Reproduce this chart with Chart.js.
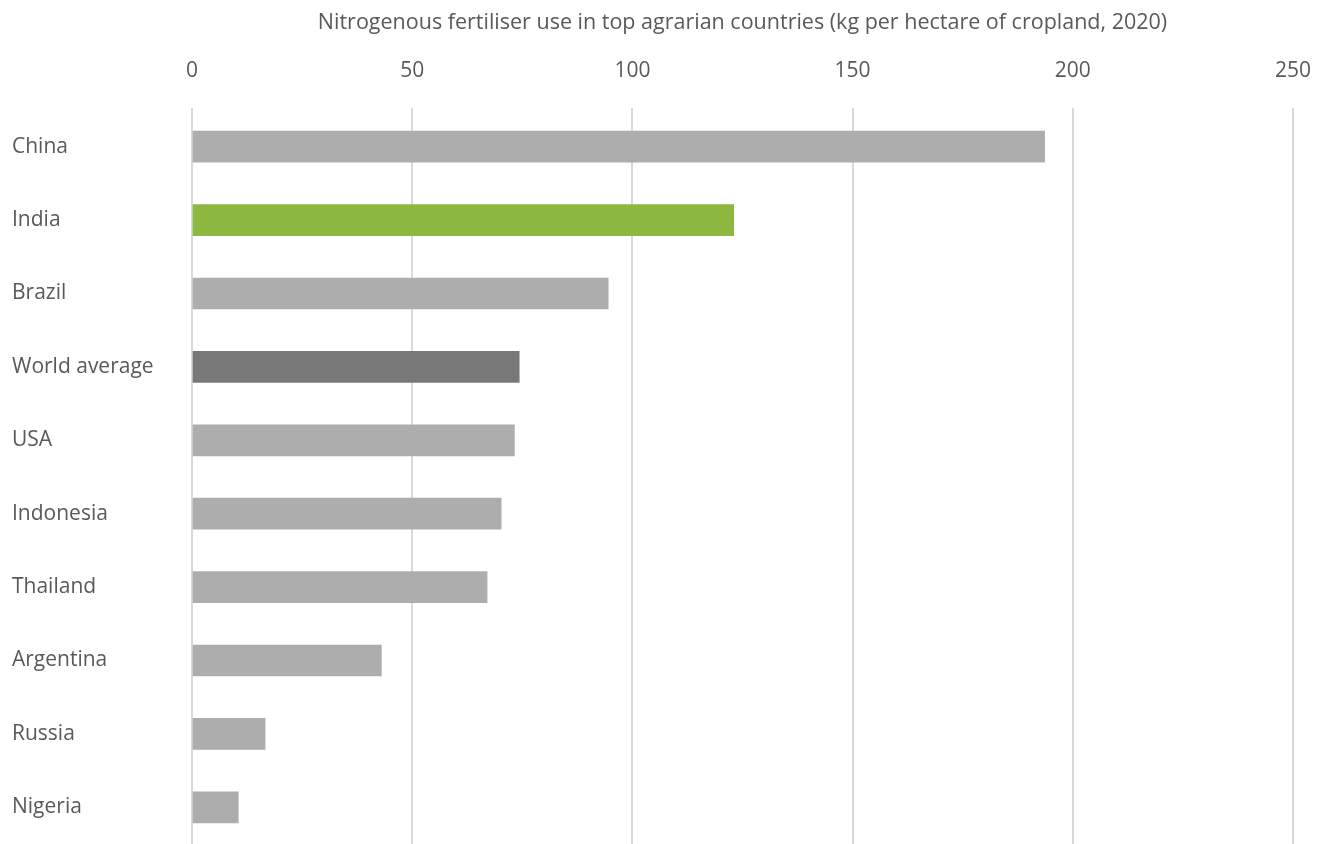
<!DOCTYPE html>
<html>
<head>
<meta charset="utf-8">
<script src="https://cdn.jsdelivr.net/npm/chart.js@4"></script>
<style>
    body { margin: 0; background: #fff; }
    #wrap { width: 1325px; height: 844px; }
</style>
</head>
<body>
<div id="wrap"><canvas id="chart-fert"></canvas></div>
<script>
'use strict';

var countries = ['China', 'India', 'Brazil', 'World average', 'USA', 'Indonesia', 'Thailand', 'Argentina', 'Russia', 'Nigeria'];
var kg_per_ha = [193.6, 123, 94.5, 74.3, 73.2, 70.2, 67, 43, 16.6, 10.5];
var x_ticks = [0, 50, 100, 150, 200, 250];

var grey = '#adadad';
var bar_colors = countries.map(function(c) {
    if (c === 'India') return '#8db83f';
    if (c === 'World average') return '#787878';
    return grey;
});

var ctx_fert = document.getElementById('chart-fert').getContext('2d');

var chart_fert = new Chart(ctx_fert, {
    type: 'bar',
    data: {
        labels: countries,
        datasets: [{
            data: kg_per_ha,
            backgroundColor: bar_colors,
            barThickness: 31
        }]
    },
    options: {
        indexAxis: 'y',
        responsive: true,
        maintainAspectRatio: false,
        animation: false,
        layout: {
            padding: { left: 12, right: 32, top: 8, bottom: 0 }
        },
        plugins: {
            legend: { display: false },
            tooltip: { enabled: false }
        },
        scales: {
            x: {
                position: 'top',
                min: 0,
                max: 250,
                afterBuildTicks: function(scale) {
                    scale.ticks = x_ticks.map(function(v) { return { value: v }; });
                },
                afterFit: function(scale) {
                    scale.height = 102;
                    scale.paddingLeft = 0;
                    scale.paddingRight = 0;
                },
                border: { display: false },
                grid: {
                    color: '#d9d9d9',
                    lineWidth: 2,
                    drawTicks: true,
                    tickLength: 2
                },
                ticks: {
                    padding: 24,
                    color: '#595959',
                    font: { family: 'Open Sans', size: 21 }
                },
                title: {
                    display: true,
                    text: 'Nitrogenous fertiliser use in top agrarian countries (kg per hectare of cropland, 2020)',
                    color: '#595959',
                    font: { family: 'Open Sans', size: 21.5 },
                    padding: { top: 2, bottom: 0 }
                }
            },
            y: {
                afterFit: function(scale) {
                    scale.width = 180;
                    scale.paddingTop = 0;
                    scale.paddingBottom = 0;
                },
                border: { display: false },
                grid: { display: false },
                ticks: {
                    crossAlign: 'far',
                    padding: 0,
                    color: '#595959',
                    font: { family: 'Open Sans', size: 21 }
                }
            }
        }
    }
});
</script>
</body>
</html>
